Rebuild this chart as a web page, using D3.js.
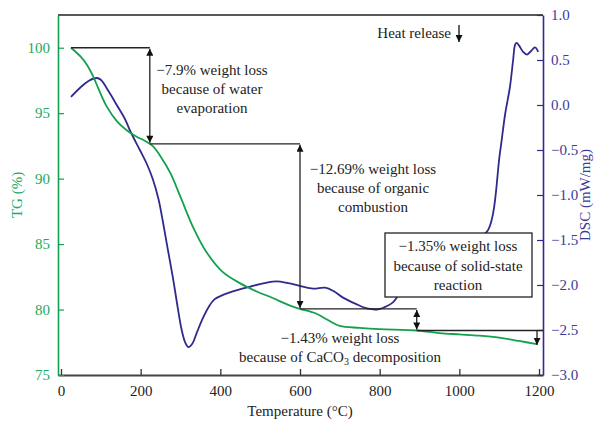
<!DOCTYPE html>
<html><head><meta charset="utf-8">
<script src="https://cdn.jsdelivr.net/npm/d3@7"></script>
<style>body{margin:0;background:#fff}svg{display:block}text{font-family:"Liberation Serif","DejaVu Serif",serif}</style>
</head><body>
<script>
// ---- data ----
const tgTemps = [25,50,65,81,95,115,140,165,190,210,230,250,275,300,330,365,405,450,490,530,575,600,640,670,700,750,800,893,950,1000,1050,1100,1150,1195];
const tgValues = [100,99.3,98.7,97.8,96.8,95.5,94.4,93.7,93.2,92.9,92.5,91.7,90.4,88.6,86.4,84.4,82.9,82.0,81.4,80.9,80.3,80.05,79.7,79.2,78.75,78.6,78.5,78.4,78.2,78.1,78.0,77.85,77.6,77.35];
const dscTemps = [25,50,70,90,100,120,140,160,175,198,215,231,245,256,268,281,293,303,312,320,330,341,355,370,385,407,440,474,510,542,570,600,633,663,685,708,740,768,796,820,834,846,870,920,980,1040,1072,1102,1115,1127,1135,1140,1144,1150,1160,1170,1180,1190,1198];
const dscValues = [0.09,0.2,0.27,0.3,0.28,0.15,0.0,-0.15,-0.3,-0.5,-0.65,-0.83,-1.05,-1.3,-1.6,-1.92,-2.25,-2.5,-2.64,-2.69,-2.65,-2.53,-2.38,-2.25,-2.16,-2.11,-2.06,-2.02,-1.98,-1.96,-1.98,-2.01,-2.04,-2.03,-2.07,-2.14,-2.21,-2.26,-2.27,-2.23,-2.19,-2.12,-2.0,-1.85,-1.7,-1.5,-1.39,-0.53,-0.1,0.2,0.5,0.67,0.69,0.66,0.59,0.56,0.6,0.64,0.59];
const xTicks = [0,200,400,600,800,1000,1200];
const tgTicks = [75,80,85,90,95,100];
const dscTicks = [-3,-2.5,-2,-1.5,-1,-0.5,0,0.5,1];
// weight-loss steps
const stepTemps = [223, 600, 893];
const stepLevels = [100, 92.66, 80.05, 78.4];
const lastStep = {t:1195, from:78.4, to:77.3};
const labels1 = ["\u22127.9% weight loss","because of water","evaporation"];
const labels2 = ["\u221212.69% weight loss","because of organic","combustion"];
const labels3 = ["\u22121.35% weight loss","because of solid-state","reaction"];

const W=601,H=422, FS=15;
const green="#13a04f", greenText="#22aa5e", purple="#2f2a8c", purpleText="#3d3a9a";
const svg=d3.select("body").append("svg").attr("width",W).attr("height",H);
const x=d3.scaleLinear().domain([-7.5,1210]).range([58,543]);
const yT=d3.scaleLinear().domain([75,102.5]).range([375,15]);
const yD=d3.scaleLinear().domain([-3,1]).range([375,15]);

const fmtD = d=> (d<0?"\u2212":"")+Math.abs(d).toFixed(1);

// top frame
svg.append("line").attr("x1",58).attr("x2",543).attr("y1",15).attr("y2",15).attr("stroke","#222").attr("stroke-width",1.3);

// bottom axis
const gx=svg.append("g").attr("transform","translate(0,375)")
  .call(d3.axisBottom(x).tickValues(xTicks).tickFormat(d3.format("d")).tickSize(-6).tickPadding(10).tickSizeOuter(0));
gx.select(".domain").attr("stroke","#444").attr("stroke-width",2);
gx.selectAll(".tick line").attr("stroke","#333").attr("stroke-width",1.3);
gx.selectAll("text").attr("font-size",FS).attr("fill","#222").attr("dy","0.71em");

// left axis
const gl=svg.append("g").attr("transform","translate(58,0)")
  .call(d3.axisLeft(yT).tickValues(tgTicks).tickSize(-6).tickPadding(8).tickSizeOuter(0));
gl.select(".domain").attr("stroke",green).attr("stroke-width",1.6);
gl.selectAll(".tick line").attr("stroke",green).attr("stroke-width",1.2);
gl.selectAll("text").attr("font-size",FS).attr("fill",greenText);

// right axis
const gr=svg.append("g").attr("transform","translate(543,0)")
  .call(d3.axisRight(yD).tickValues(dscTicks).tickFormat(fmtD).tickSize(-6).tickPadding(8).tickSizeOuter(0));
gr.select(".domain").attr("stroke",purple).attr("stroke-width",1.6);
gr.selectAll(".tick line").attr("stroke",purple).attr("stroke-width",1.2);
gr.selectAll("text").attr("font-size",FS).attr("fill",purpleText);

// axis titles
svg.append("text").attr("transform","translate(22,195) rotate(-90)").attr("text-anchor","middle")
  .attr("font-size",FS).attr("fill",greenText).text("TG (%)");
svg.append("text").attr("transform","translate(590,195) rotate(-90)").attr("text-anchor","middle")
  .attr("font-size",FS).attr("fill",purpleText).text("DSC (mW/mg)");
svg.append("text").attr("x",300).attr("y",416).attr("text-anchor","middle")
  .attr("font-size",FS).attr("fill","#222").text("Temperature (\u00B0C)");

// curves
const tgData=tgTemps.map((t,i)=>[t,tgValues[i]]);
const dscData=dscTemps.map((t,i)=>[t,dscValues[i]]);
svg.append("path").datum(dscData).attr("fill","none").attr("stroke",purple).attr("stroke-width",1.8)
  .attr("d",d3.line().x(d=>x(d[0])).y(d=>yD(d[1])).curve(d3.curveCatmullRom));
svg.append("path").datum(tgData).attr("fill","none").attr("stroke",green).attr("stroke-width",1.8)
  .attr("d",d3.line().x(d=>x(d[0])).y(d=>yT(d[1])).curve(d3.curveCatmullRom));

// arrow markers
const defs=svg.append("defs");
defs.append("marker").attr("id","ah").attr("viewBox","0 0 10 10").attr("refX",10).attr("refY",5)
  .attr("markerWidth",8).attr("markerHeight",7).attr("markerUnits","userSpaceOnUse").attr("orient","auto-start-reverse")
  .append("path").attr("d","M0,0 L10,5 L0,10 Z").attr("fill","#111");

const ann=svg.append("g").attr("stroke","#222").attr("stroke-width",1.3).attr("fill","none");
ann.append("line").attr("x1",x(25)).attr("x2",x(stepTemps[0])).attr("y1",yT(stepLevels[0])).attr("y2",yT(stepLevels[0]));
stepTemps.forEach((t,i)=>{
  const xe = i<stepTemps.length-1 ? x(stepTemps[i+1]) : 543;
  ann.append("line").attr("x1",x(t)).attr("x2",xe).attr("y1",yT(stepLevels[i+1])).attr("y2",yT(stepLevels[i+1]));
  ann.append("line").attr("x1",x(t)).attr("x2",x(t)).attr("y1",yT(stepLevels[i])+1).attr("y2",yT(stepLevels[i+1])-1)
    .attr("marker-start","url(#ah)").attr("marker-end","url(#ah)");
});
ann.append("line").attr("x1",x(lastStep.t)).attr("x2",x(lastStep.t)).attr("y1",yT(lastStep.from)).attr("y2",yT(lastStep.to))
  .attr("marker-end","url(#ah)");

// texts
function block(lines,cx,y0,dy){
  const t=svg.append("text").attr("text-anchor","middle").attr("font-size",FS).attr("fill","#222");
  lines.forEach((l,i)=>t.append("tspan").attr("x",cx).attr("y",y0+i*dy).text(l));
  return t;
}
block(labels1,212,75,19);
block(labels2,373,174,19);
svg.append("rect").attr("x",385).attr("y",233).attr("width",147).attr("height",64).attr("fill","#fff").attr("stroke","#222").attr("stroke-width",1.3);
block(labels3,458,251,19.5);
const c=svg.append("text").attr("text-anchor","middle").attr("font-size",FS).attr("fill","#222");
c.append("tspan").attr("x",340).attr("y",343).text("\u22121.43% weight loss");
const c2=svg.append("text").attr("text-anchor","middle").attr("font-size",FS).attr("fill","#222").attr("x",340).attr("y",362);
c2.append("tspan").text("because of CaCO");
c2.append("tspan").attr("font-size",10).attr("dy",3).text("3");
c2.append("tspan").attr("dy",-3).text(" decomposition");

svg.append("text").attr("x",451).attr("y",38).attr("text-anchor","end").attr("font-size",FS).attr("fill","#222").text("Heat release");
svg.append("line").attr("x1",459).attr("x2",459).attr("y1",25).attr("y2",42).attr("stroke","#111").attr("stroke-width",1.3).attr("marker-end","url(#ah)");
</script>
</body></html>
